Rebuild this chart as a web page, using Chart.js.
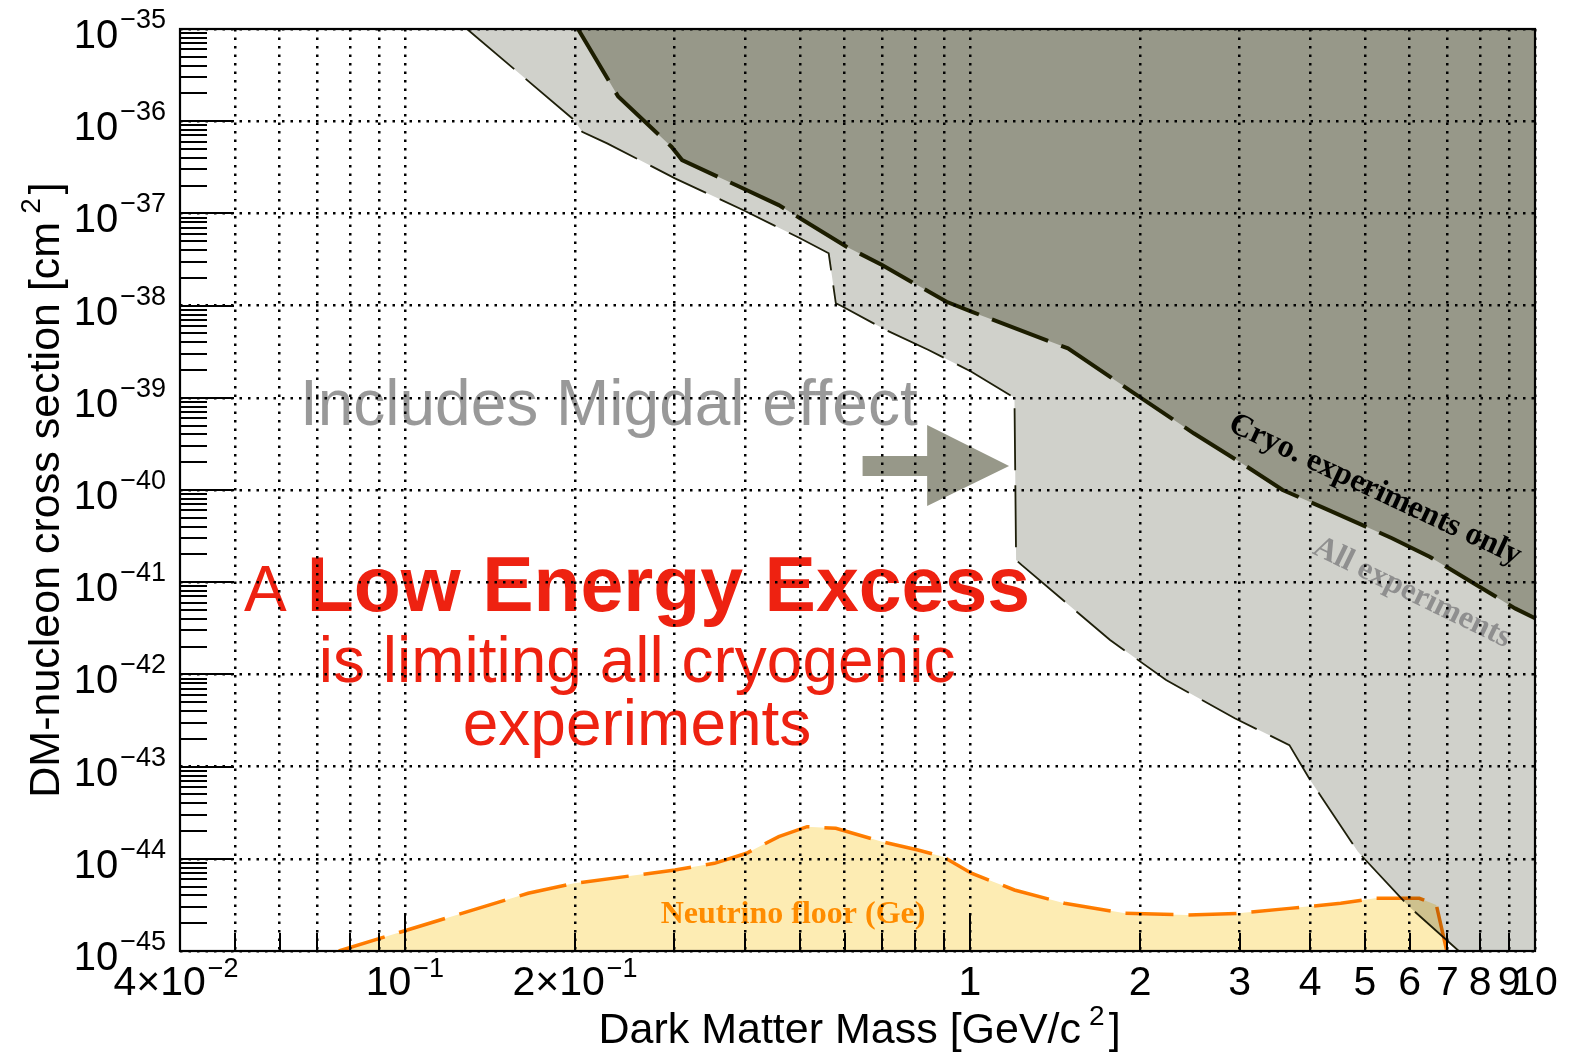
<!DOCTYPE html>
<html>
<head>
<meta charset="utf-8">
<script src="https://cdn.jsdelivr.net/npm/chart.js@4.4.1/dist/chart.umd.min.js"></script>
<style>
  html, body { margin: 0; padding: 0; background: #fff; }
  #wrap { width: 1586px; height: 1053px; }
</style>
</head>
<body>
<div id="wrap"><canvas id="c" width="1586" height="1053"></canvas></div>
<script>
// Exclusion limit: cryogenic experiments only (upper, dark region)
const cryoMass = [0.2025, 0.2385, 0.2963, 0.3094, 0.3851, 0.4588, 0.5005, 0.6048, 0.699, 0.909, 1.006,
                  1.491, 1.936, 2.489, 3.026, 3.576, 4.225, 5.584, 6.508, 7.8, 9.22, 10];
const cryoXsec = [1e-35, 1.85e-36, 5.29e-37, 3.79e-37, 2.03e-37, 1.23e-37, 8.85e-38, 4.35e-38, 2.75e-38, 1.10e-38, 8.6e-39,
                  3.44e-39, 1.16e-39, 4.12e-40, 1.95e-40, 1.0e-40, 6.4e-41, 3.0e-41, 1.89e-41, 9.7e-42, 5.2e-42, 4.06e-42];

// Exclusion limit: all experiments, including the Migdal effect (light region)
const allMass = [0.1288, 0.1993, 0.2059, 0.228, 0.3006, 0.3966, 0.5005, 0.5624, 0.579, 0.596, 0.7098, 0.845,
                 1.006, 1.199, 1.207, 1.234, 1.77, 2.224, 2.942, 3.676, 4.0, 4.86, 5.99, 7.33];
const allXsec = [1e-35, 1.03e-36, 7.69e-37, 5.75e-37, 2.40e-37, 1.089e-37, 5.37e-38, 3.69e-38, 1.06e-38, 9.73e-39, 5.43e-39, 3.30e-39,
                 1.92e-39, 1.0e-39, 1.74e-41, 1.54e-41, 2.36e-42, 8.7e-43, 3.34e-43, 1.71e-43, 7.16e-44, 1.19e-44, 3.02e-45, 1e-45];

// Neutrino floor for germanium
const nuMass = [0.0764, 0.1, 0.1652, 0.1993, 0.3006, 0.353, 0.4023, 0.4588, 0.515, 0.579, 0.699, 0.809, 0.896,
                1.006, 1.199, 1.47, 1.884, 2.42, 2.98, 3.676, 4.53, 5.21, 6.24, 6.69, 6.98];
const nuXsec = [1e-45, 1.66e-45, 4.23e-45, 5.42e-45, 7.56e-45, 8.93e-45, 1.148e-44, 1.74e-44, 2.23e-44, 2.14e-44, 1.53e-44, 1.245e-44, 1.054e-44,
                6.97e-45, 4.59e-45, 3.29e-45, 2.56e-45, 2.46e-45, 2.56e-45, 2.90e-45, 3.29e-45, 3.73e-45, 3.73e-45, 3.15e-45, 1e-45];

// Axis ranges, grid and tick labels
const xRange = [0.04, 10];
const yRange = [1e-45, 1e-35];
const xGridValues = [0.05, 0.06, 0.07, 0.08, 0.09, 0.1, 0.2, 0.3, 0.4, 0.5, 0.6, 0.7, 0.8, 0.9,
                     1, 2, 3, 4, 5, 6, 7, 8, 9, 10];
const xMajorValues = [0.1, 1, 10];
const yDecadeValues = [1e-35, 1e-36, 1e-37, 1e-38, 1e-39, 1e-40, 1e-41, 1e-42, 1e-43, 1e-44, 1e-45];
const yLabelBase = ['10', '10', '10', '10', '10', '10', '10', '10', '10', '10', '10'];
const yLabelExp = ['\u221235', '\u221236', '\u221237', '\u221238', '\u221239', '\u221240',
                   '\u221241', '\u221242', '\u221243', '\u221244', '\u221245'];
const xLabelValues = [0.04, 0.1, 0.2, 1, 2, 3, 4, 5, 6, 7, 8, 9, 10];
const xLabelBase = ['4\u00d710', '10', '2\u00d710', '1', '2', '3', '4', '5', '6', '7', '8', '9', '10'];
const xLabelExp = ['\u22122', '\u22121', '\u22121', '', '', '', '', '', '', '', '', '', ''];

// Annotation anchors (data coordinates)
const migdalAnchor = [0.0652, 5.07e-40];
const arrowX = [0.6457, 0.84, 1.173];   // tail, head base, tip
const arrowLevel = 1.82e-40;
const excessCenterX = 0.2576;
const excessBaselines = [4.88e-42, 8.33e-43, 1.71e-43];
const cryoLabelAnchor = [5.21, 1.0e-40];
const allLabelAnchor = [6.06, 7.64e-42];
const nuLabelAnchor = [0.4864, 2.01e-45];

const SANS = '"Liberation Sans", Arial, Helvetica, sans-serif';
const SERIF = '"Liberation Serif", "Times New Roman", serif';

const pts = (xs, ys) => xs.map((x, i) => ({ x: x, y: ys[i] }));

// Light region closes along the lower edge out to the right end of the mass axis
const allFillPts = pts(allMass, allXsec).concat([{ x: xRange[1], y: yRange[0] }]);

const datasets = [
  { // neutrino floor, blended so it tints whatever lies beneath
    label: 'Neutrino floor (Ge)', data: pts(nuMass, nuXsec), order: 0, blend: 'multiply',
    borderColor: 'rgb(255,128,0)', borderWidth: 3.5, borderDash: [48, 15],
    backgroundColor: 'rgb(253,236,179)', fill: 'start'
  },
  {
    label: 'All experiments', data: pts(allMass, allXsec), order: 1,
    borderColor: '#1e1f0a', borderWidth: 1.8, borderDash: [62, 15], fill: false
  },
  {
    label: 'Cryo. experiments only', data: pts(cryoMass, cryoXsec), order: 2,
    borderColor: '#1c1d00', borderWidth: 4, borderDash: [60, 14],
    backgroundColor: '#979889', fill: 'end'
  },
  {
    label: 'All experiments region', data: allFillPts, order: 3,
    borderColor: 'rgba(0,0,0,0)', borderWidth: 0,
    backgroundColor: '#d0d1cb', fill: 'end'
  }
];

// Switches the compositing mode for datasets that ask for a blend mode
const blendPlugin = {
  id: 'blend',
  beforeDatasetsDraw(chart) {
    const metas = chart.getSortedVisibleDatasetMetas();
    const first = metas[metas.length - 1];
    chart.ctx.globalCompositeOperation = (first && chart.data.datasets[first.index].blend) || 'source-over';
  },
  afterDatasetDraw(chart, args) {
    const metas = chart.getSortedVisibleDatasetMetas();
    const pos = metas.indexOf(args.meta);
    const next = metas[pos - 1];
    chart.ctx.globalCompositeOperation = (next && chart.data.datasets[next.index].blend) || 'source-over';
  },
  afterDatasetsDraw(chart) {
    chart.ctx.globalCompositeOperation = 'source-over';
  }
};

// Text made of pieces with their own fonts and baseline shifts
function drawRich(ctx, parts, x, y, align) {
  const widths = parts.map(p => { ctx.font = p.font; return ctx.measureText(p.text).width + (p.gap || 0); });
  const total = widths.reduce((a, b) => a + b, 0);
  let cx = align === 'center' ? x - total / 2 : (align === 'right' ? x - total : x);
  ctx.textAlign = 'left';
  parts.forEach((p, i) => {
    ctx.font = p.font;
    ctx.fillText(p.text, cx + (p.gap || 0), y + (p.dy || 0));
    cx += widths[i];
  });
}

// Annotations drawn above the filled regions, below the grid
const notesPlugin = {
  id: 'notes',
  afterDatasetsDraw(chart) {
    const { ctx, scales: { x, y } } = chart;
    ctx.save();
    ctx.textBaseline = 'alphabetic';

    // "Includes Migdal effect"
    ctx.fillStyle = '#999999';
    ctx.font = '64px ' + SANS;
    ctx.textAlign = 'left';
    ctx.fillText('Includes Migdal effect', x.getPixelForValue(migdalAnchor[0]), y.getPixelForValue(migdalAnchor[1]));

    // arrow pointing at the Migdal edge
    const ay = y.getPixelForValue(arrowLevel);
    const xt = x.getPixelForValue(arrowX[0]), xb = x.getPixelForValue(arrowX[1]), xp = x.getPixelForValue(arrowX[2]);
    ctx.fillStyle = '#979889';
    ctx.beginPath();
    ctx.moveTo(xt, ay - 10); ctx.lineTo(xb, ay - 10); ctx.lineTo(xb, ay - 41);
    ctx.lineTo(xp, ay); ctx.lineTo(xb, ay + 40); ctx.lineTo(xb, ay + 10); ctx.lineTo(xt, ay + 10);
    ctx.closePath(); ctx.fill();

    // red message
    ctx.fillStyle = '#ee2211';
    const cx = x.getPixelForValue(excessCenterX);
    drawRich(ctx, [
      { text: 'A', font: '64px ' + SANS },
      { text: 'Low Energy Excess', font: 'bold 77px ' + SANS, gap: 20 }
    ], cx, y.getPixelForValue(excessBaselines[0]), 'center');
    ctx.font = '64px ' + SANS;
    ctx.textAlign = 'center';
    ctx.fillText('is limiting all cryogenic', cx, y.getPixelForValue(excessBaselines[1]));
    ctx.fillText('experiments', cx, y.getPixelForValue(excessBaselines[2]));

    // region labels along the limit curves
    const rotated = (text, anchor, deg, color) => {
      ctx.save();
      ctx.translate(x.getPixelForValue(anchor[0]), y.getPixelForValue(anchor[1]));
      ctx.rotate(deg * Math.PI / 180);
      ctx.font = 'bold 32px ' + SERIF;
      ctx.fillStyle = color;
      ctx.textAlign = 'center';
      ctx.textBaseline = 'middle';
      ctx.fillText(text, 0, 0);
      ctx.restore();
    };
    rotated('Cryo. experiments only', cryoLabelAnchor, 25, '#000000');
    rotated('All experiments', allLabelAnchor, 26, '#8f8f8f');

    ctx.font = 'bold 32px ' + SERIF;
    ctx.fillStyle = '#ff8c00';
    ctx.textAlign = 'center';
    ctx.textBaseline = 'alphabetic';
    ctx.fillText('Neutrino floor (Ge)', x.getPixelForValue(nuLabelAnchor[0]), y.getPixelForValue(nuLabelAnchor[1]));
    ctx.restore();
  }
};

// Frame, inward tick marks, tick labels and axis titles
const framePlugin = {
  id: 'frame',
  afterDraw(chart) {
    const { ctx, chartArea: a, scales: { x, y } } = chart;
    ctx.save();
    ctx.strokeStyle = '#000';
    ctx.lineWidth = 2;
    ctx.beginPath();
    // y ticks: decades long, 2..9 short
    for (let d = 0; d < yDecadeValues.length; d++) {
      const v = yDecadeValues[d];
      const py = Math.round(y.getPixelForValue(v));
      ctx.moveTo(a.left, py); ctx.lineTo(a.left + 54, py);
      if (d < yDecadeValues.length - 1) {
        for (let k = 2; k <= 9; k++) {
          const pm = Math.round(y.getPixelForValue(k * yDecadeValues[d + 1]));
          ctx.moveTo(a.left, pm); ctx.lineTo(a.left + 27, pm);
        }
      }
    }
    // x ticks
    xGridValues.forEach(v => {
      const px = Math.round(x.getPixelForValue(v));
      const len = xMajorValues.includes(v) ? 36 : 18;
      ctx.moveTo(px, a.bottom); ctx.lineTo(px, a.bottom - len);
    });
    ctx.stroke();
    ctx.lineWidth = 2.2;
    ctx.strokeRect(a.left, a.top, a.right - a.left, a.bottom - a.top);

    // tick labels
    ctx.fillStyle = '#000';
    ctx.textBaseline = 'alphabetic';
    yDecadeValues.forEach((v, i) => {
      const py = y.getPixelForValue(v);
      drawRich(ctx, [
        { text: yLabelBase[i], font: '40px ' + SANS, dy: 19 },
        { text: yLabelExp[i], font: '27px ' + SANS, dy: -1, gap: 2 }
      ], 166, py, 'right');
    });
    xLabelValues.forEach((v, i) => {
      const px = x.getPixelForValue(v);
      const parts = [{ text: xLabelBase[i], font: '41px ' + SANS, dy: 0 }];
      if (xLabelExp[i]) parts.push({ text: xLabelExp[i], font: '27px ' + SANS, dy: -18, gap: 2 });
      drawRich(ctx, parts, v === xRange[0] ? px - 4 : px, 995, 'center');
    });

    // axis titles
    drawRich(ctx, [
      { text: 'Dark Matter Mass [GeV/c', font: '43px ' + SANS },
      { text: '2', font: '28px ' + SANS, dy: -18, gap: 8 },
      { text: ']', font: '43px ' + SANS, gap: 4 }
    ], (a.left + a.right) / 2 + 2, 1043, 'center');

    ctx.save();
    ctx.translate(59, (a.top + a.bottom) / 2);
    ctx.rotate(-Math.PI / 2);
    drawRich(ctx, [
      { text: 'DM-nucleon cross section [cm', font: '43px ' + SANS },
      { text: '2', font: '28px ' + SANS, dy: -19, gap: 8 },
      { text: ']', font: '43px ' + SANS, gap: 4 }
    ], 0, 0, 'center');
    ctx.restore();
    ctx.restore();
  }
};

new Chart(document.getElementById('c'), {
  type: 'scatter',
  data: { datasets: datasets.map(d => Object.assign({ showLine: true, pointRadius: 0, tension: 0 }, d)) },
  options: {
    responsive: false,
    devicePixelRatio: 1,
    animation: false,
    events: [],
    layout: { padding: { left: 180, right: 51, top: 29, bottom: 102 } },
    plugins: { legend: { display: false }, tooltip: { enabled: false } },
    scales: {
      x: {
        type: 'logarithmic', min: xRange[0], max: xRange[1],
        afterBuildTicks: s => { s.ticks = xGridValues.map(v => ({ value: v })); },
        ticks: { display: false },
        grid: { color: '#000', lineWidth: 2.5, drawTicks: false, z: 1 },
        border: { display: false, dash: [2.5, 6] }
      },
      y: {
        type: 'logarithmic', min: yRange[0], max: yRange[1],
        afterBuildTicks: s => { s.ticks = yDecadeValues.map(v => ({ value: v })); },
        ticks: { display: false },
        grid: { color: '#000', lineWidth: 2.5, drawTicks: false, z: 1 },
        border: { display: false, dash: [2.5, 6] }
      }
    }
  },
  plugins: [blendPlugin, notesPlugin, framePlugin]
});
</script>
</body>
</html>
